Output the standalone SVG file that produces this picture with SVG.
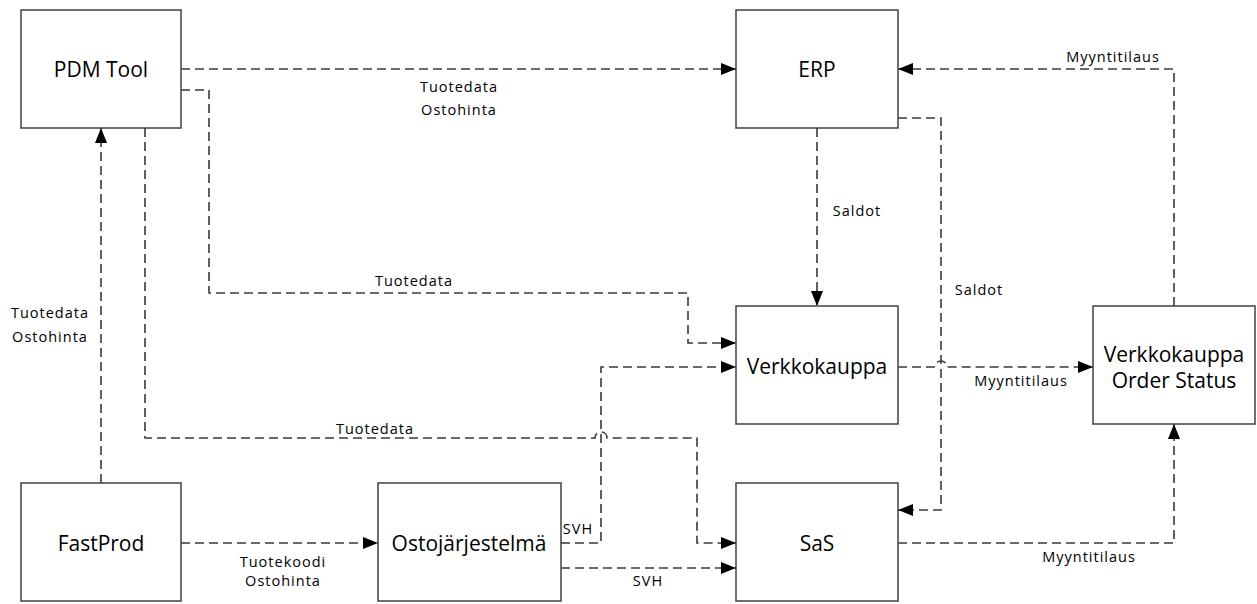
<svg xmlns="http://www.w3.org/2000/svg" width="1257" height="604" viewBox="0 0 1257 604">
  <style>
    .box { fill: #ffffff; stroke: #404040; stroke-width: 1.5; }
    .name { font-family: "Open Sans", "Noto Sans", sans-serif; font-size: 21px; fill: #000; text-anchor: middle; dominant-baseline: central; }
    .flow { fill: none; stroke: #3a3a3a; stroke-width: 1.6; stroke-dasharray: 9 5; }
    .lbl { font-family: "Open Sans", "Noto Sans", sans-serif; font-size: 14.5px; letter-spacing: 1px; fill: #000; text-anchor: middle; dominant-baseline: central; }
  </style>
  <defs>
    <marker id="arrow" markerUnits="userSpaceOnUse" markerWidth="16" markerHeight="12" refX="15" refY="6" orient="auto">
      <path d="M0,0 L15,6 L0,12 z" fill="#000"/>
    </marker>
  </defs>
  <rect width="1257" height="604" fill="#ffffff"/>

  <g id="connectors">
    <!-- PDM Tool to ERP -->
    <path class="flow" d="M181,69 H736" marker-end="url(#arrow)"/>
    <text class="lbl" x="459" y="86">Tuotedata</text>
    <text class="lbl" x="459" y="109">Ostohinta</text>

    <!-- PDM Tool to Verkkokauppa -->
    <path class="flow" d="M181,90 H209 V293 H688 V343 H736" marker-end="url(#arrow)"/>
    <text class="lbl" x="414" y="280">Tuotedata</text>

    <!-- PDM Tool to SaS (hops over the SVH riser) -->
    <path class="flow" d="M145,128 V438 H595 a6,6 0 0 1 12,0 H697 V543 H736" marker-end="url(#arrow)"/>
    <text class="lbl" x="375" y="428">Tuotedata</text>

    <!-- FastProd to PDM Tool -->
    <path class="flow" d="M101,483 V128" marker-end="url(#arrow)"/>
    <text class="lbl" x="50" y="312">Tuotedata</text>
    <text class="lbl" x="50" y="336">Ostohinta</text>

    <!-- FastProd to Ostojärjestelmä -->
    <path class="flow" d="M181,543 H378" marker-end="url(#arrow)"/>
    <text class="lbl" x="283" y="561">Tuotekoodi</text>
    <text class="lbl" x="283" y="580">Ostohinta</text>

    <!-- Ostojärjestelmä to Verkkokauppa -->
    <path class="flow" d="M561,543 H601 V367 H736" marker-end="url(#arrow)"/>
    <text class="lbl" x="578" y="528">SVH</text>

    <!-- Ostojärjestelmä to SaS -->
    <path class="flow" d="M561,568 H736" marker-end="url(#arrow)"/>
    <text class="lbl" x="648" y="580">SVH</text>

    <!-- ERP to Verkkokauppa -->
    <path class="flow" d="M817,128 V306" marker-end="url(#arrow)"/>
    <text class="lbl" x="857" y="210">Saldot</text>

    <!-- ERP to SaS -->
    <path class="flow" d="M898,118 H941 V510 H898" marker-end="url(#arrow)"/>
    <text class="lbl" x="979" y="289">Saldot</text>

    <!-- Verkkokauppa to Order Status (hops over the Saldot line) -->
    <path class="flow" d="M898,367 H935 a6,6 0 0 1 12,0 H1093" marker-end="url(#arrow)"/>
    <text class="lbl" x="1021" y="380">Myyntitilaus</text>

    <!-- Order Status to ERP -->
    <path class="flow" d="M1174,306 V69 H898" marker-end="url(#arrow)"/>
    <text class="lbl" x="1113" y="56">Myyntitilaus</text>

    <!-- SaS to Order Status -->
    <path class="flow" d="M898,543 H1174 V424" marker-end="url(#arrow)"/>
    <text class="lbl" x="1089" y="556">Myyntitilaus</text>
  </g>

  <g id="pdm-tool">
    <rect class="box" x="21" y="10" width="160" height="118"/>
    <text class="name" x="101" y="69">PDM Tool</text>
  </g>
  <g id="erp">
    <rect class="box" x="736" y="10" width="162" height="118"/>
    <text class="name" x="817" y="69">ERP</text>
  </g>
  <g id="verkkokauppa">
    <rect class="box" x="736" y="306" width="162" height="118"/>
    <text class="name" x="817" y="366">Verkkokauppa</text>
  </g>
  <g id="order-status">
    <rect class="box" x="1093" y="306" width="162" height="118"/>
    <text class="name" x="1174" y="354">Verkkokauppa</text>
    <text class="name" x="1174" y="380">Order Status</text>
  </g>
  <g id="sas">
    <rect class="box" x="736" y="483" width="162" height="118"/>
    <text class="name" x="817" y="543">SaS</text>
  </g>
  <g id="fastprod">
    <rect class="box" x="21" y="483" width="160" height="118"/>
    <text class="name" x="101" y="543">FastProd</text>
  </g>
  <g id="ostojarjestelma">
    <rect class="box" x="378" y="483" width="183" height="118"/>
    <text class="name" x="469" y="543">Ostojärjestelmä</text>
  </g>
</svg>
